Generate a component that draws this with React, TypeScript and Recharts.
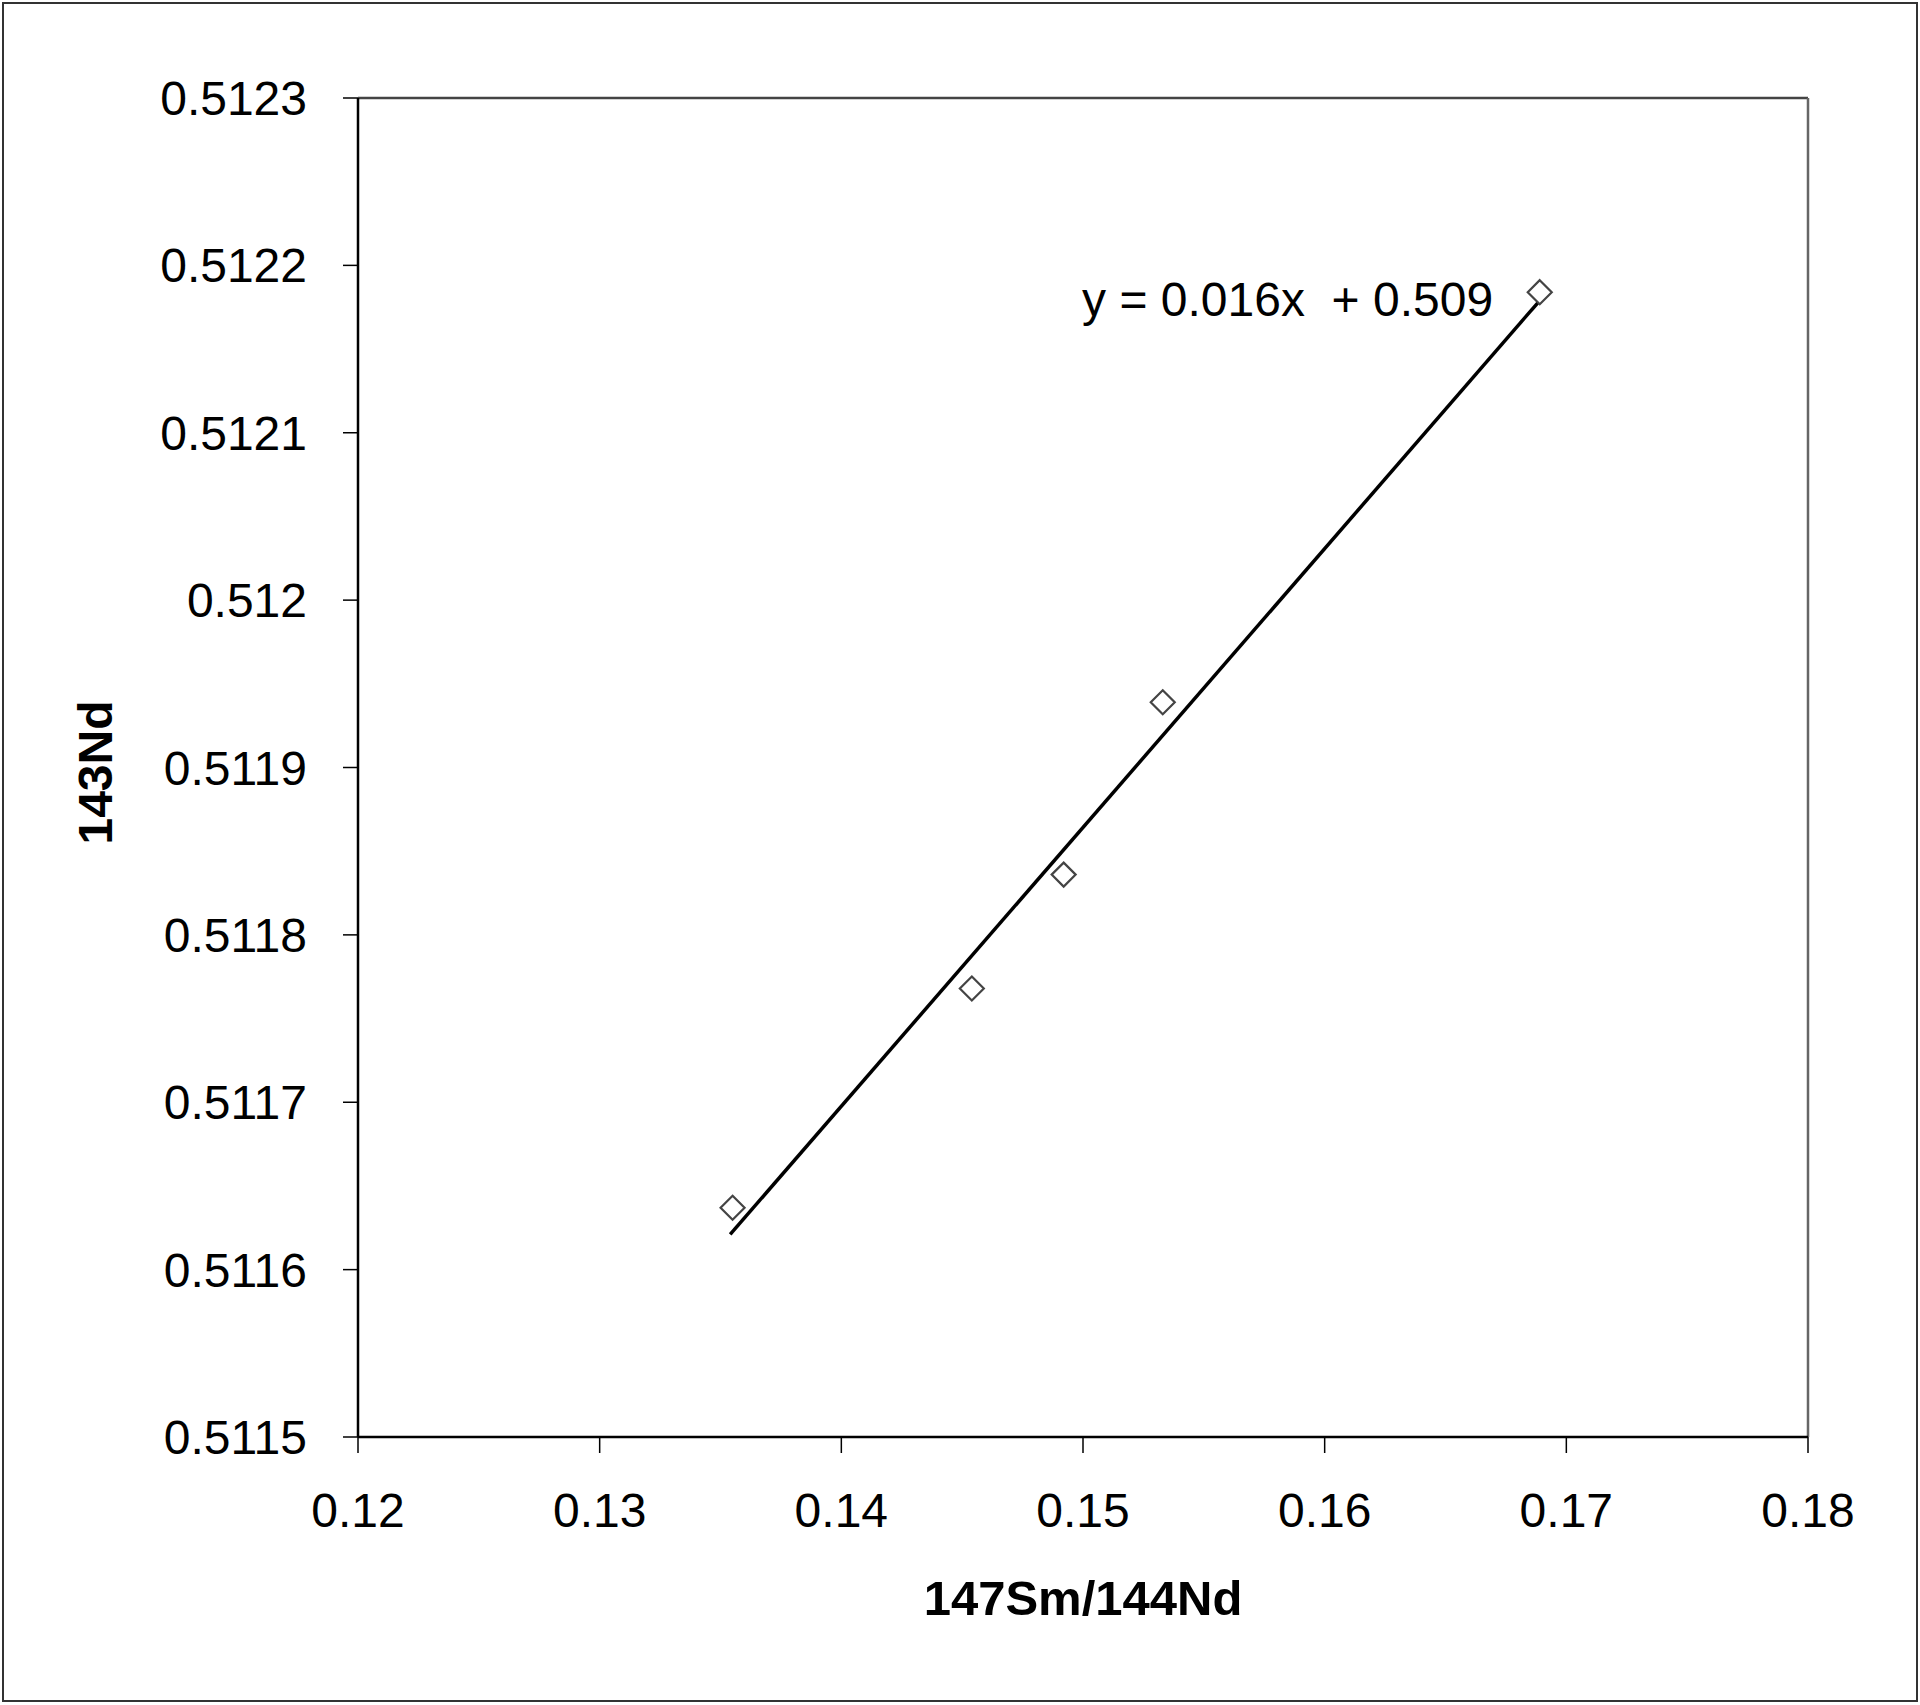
import React from 'react';
import { ScatterChart, Scatter, XAxis, YAxis, ReferenceDot, ReferenceLine } from 'recharts';

// Sample values: 147Sm/144Nd (x) and 143Nd/144Nd (y)
const smNdRatio = [0.1355, 0.1454, 0.1492, 0.1533, 0.1689];
const ndRatio = [0.511637, 0.511768, 0.511836, 0.511939, 0.512184];

// Linear trend line end points
const trendX = [0.1354, 0.1689];
const trendY = [0.511621, 0.512179];

const xTicks = [0.12, 0.13, 0.14, 0.15, 0.16, 0.17, 0.18];
const yTicks = [0.5115, 0.5116, 0.5117, 0.5118, 0.5119, 0.512, 0.5121, 0.5122, 0.5123];
const xDomain = [0.12, 0.18];
const yDomain = [0.5115, 0.5123];

const equationText = 'y = 0.016x  + 0.509';
const equationAnchor = { x: 0.16697, y: 0.51217 };
const xTitle = '147Sm/144Nd';
const yTitle = '143Nd';

const points = smNdRatio.map((x, i) => ({ x, y: ndRatio[i] }));
const trend = trendX.map((x, i) => ({ x, y: trendY[i] }));

const FONT = '"Liberation Sans", Arial, sans-serif';

const fmt = (v: number) => String(Number(v.toFixed(5)));

const Diamond = (props: any) => {
  const { cx, cy } = props;
  if (cx == null || cy == null) return <g />;
  const h = 12;
  return (
    <path
      d={`M${cx},${cy - h} L${cx + h},${cy} L${cx},${cy + h} L${cx - h},${cy} Z`}
      fill="#fff"
      stroke="#444"
      strokeWidth={2.2}
    />
  );
};

const NoShape = () => <g />;

const YTitle = (props: any) => {
  const vb = props.viewBox || { x: 0, y: 0, width: 0, height: 0 };
  const x = vb.x + 95;
  const y = vb.y + vb.height / 2 + 5;
  return (
    <text
      x={x}
      y={y}
      dy="0.35em"
      transform={`rotate(-90, ${x}, ${y})`}
      textAnchor="middle"
      fontFamily={FONT}
      fontSize={48}
      fontWeight="bold"
      fill="#000"
    >
      {yTitle}
    </text>
  );
};

const XTitle = (props: any) => {
  const vb = props.viewBox || { x: 0, y: 0, width: 0, height: 0 };
  const x = vb.x + vb.width / 2;
  const y = vb.y + 161;
  return (
    <text
      x={x}
      y={y}
      dy="0.35em"
      textAnchor="middle"
      fontFamily={FONT}
      fontSize={49}
      fontWeight="bold"
      fill="#000"
    >
      {xTitle}
    </text>
  );
};

const EqLabel = (props: any) => {
  const vb = props.viewBox || { x: 0, y: 0, width: 0, height: 0 };
  const x = vb.x + (vb.width || 0) / 2;
  const y = vb.y + (vb.height || 0) / 2;
  return (
    <text
      x={x}
      y={y}
      textAnchor="end"
      fontFamily={FONT}
      fontSize={48}
      fill="#000"
      style={{ whiteSpace: 'pre' }}
    >
      {equationText}
    </text>
  );
};

export default function App() {
  return (
    <div style={{ position: 'absolute', left: 0, top: 0, width: 1920, height: 1705, background: '#fff' }}>
      <div
        style={{
          position: 'absolute',
          left: 2,
          top: 2,
          width: 1916,
          height: 1700,
          border: '2px solid #333',
          boxSizing: 'border-box',
        }}
      />
      <div style={{ position: 'absolute', left: 0, top: 0 }}>
        <ScatterChart width={1920} height={1705} margin={{ top: 98, right: 112, bottom: 0, left: 0 }}>
          <ReferenceLine y={yDomain[1]} stroke="#444" strokeWidth={2.5} />
          <ReferenceLine x={xDomain[1]} stroke="#666" strokeWidth={2.5} />
          <XAxis
            type="number"
            dataKey="x"
            domain={xDomain}
            ticks={xTicks}
            interval={0}
            height={268}
            tickSize={16}
            tickMargin={40}
            tickFormatter={fmt}
            tick={{ fill: '#000', fontSize: 48, fontFamily: FONT }}
            tickLine={{ stroke: '#000', strokeWidth: 1.5 }}
            axisLine={{ stroke: '#000', strokeWidth: 2.5 }}
            allowDataOverflow
            label={{ content: XTitle }}
          />
          <YAxis
            type="number"
            dataKey="y"
            domain={yDomain}
            ticks={yTicks}
            interval={0}
            width={358}
            tickSize={15}
            tickMargin={36}
            tickFormatter={fmt}
            tick={{ fill: '#000', fontSize: 48, fontFamily: FONT }}
            tickLine={{ stroke: '#000', strokeWidth: 1.5 }}
            axisLine={{ stroke: '#000', strokeWidth: 2.5 }}
            allowDataOverflow
            label={{ content: YTitle }}
          />
          <Scatter
            data={trend}
            line={{ stroke: '#000', strokeWidth: 3.5 }}
            lineType="joint"
            shape={NoShape}
            isAnimationActive={false}
          />
          <Scatter data={points} shape={Diamond} isAnimationActive={false} />
          <ReferenceDot
            x={equationAnchor.x}
            y={equationAnchor.y}
            r={0}
            fill="none"
            stroke="none"
            label={{ content: EqLabel }}
          />
        </ScatterChart>
      </div>
    </div>
  );
}
